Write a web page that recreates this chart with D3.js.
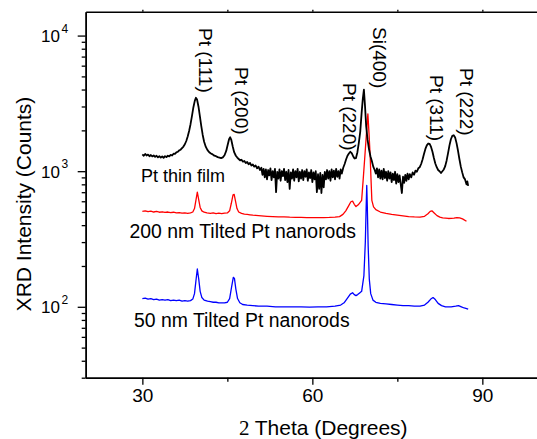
<!DOCTYPE html>
<html><head><meta charset="utf-8">
<script src="https://cdn.jsdelivr.net/npm/d3@7"></script>
<style>body{margin:0;background:#fff}svg{display:block}</style>
</head><body><svg id="c" width="537" height="439"></svg>
<script>
// ---------- data ----------
const thinFilm = [
[30,1330],[30.25,1300],[30.5,1340],[30.75,1305],[31,1325],[31.25,1290],[31.5,1315],[31.75,1285],[32,1305],[32.25,1275],[32.5,1300],[32.75,1265],[33,1290],[33.25,1260],[33.5,1285],[33.75,1255],[34,1290],[34.25,1270],[34.5,1300],[34.75,1285],[35,1320],[35.25,1305],[35.5,1345],[35.75,1340],[36,1375],[36.25,1390],[36.5,1425],[36.75,1440],[37,1480],[37.25,1520],[37.5,1580],[37.75,1670],[38,1800],[38.25,1980],[38.5,2220],[38.75,2550],[39,2950],[39.25,3300],[39.45,3480],[39.65,3380],[39.9,3000],[40.15,2550],[40.4,2150],[40.65,1850],[40.9,1650],[41.2,1510],[41.5,1430],[41.8,1380],[42.1,1350],[42.4,1330],[42.7,1300],[43,1290],[43.3,1270],[43.6,1260],[43.9,1250],[44.2,1265],[44.5,1310],[44.8,1410],[45.05,1560],[45.3,1720],[45.5,1780],[45.7,1700],[45.95,1520],[46.2,1380],[46.5,1300],[46.75,1260],[47,1230],[47.25,1200],[47.5,1215],[47.75,1175],[48,1190],[48.25,1150],[48.5,1170],[48.75,1125],[49,1150],[49.25,1100],[49.5,1120],[49.75,1080],[50,1100],[50.25,1050],[50.5,1080],[50.75,1020],
[51,1060],[51.2,940],[51.4,1040],[51.6,900],[51.8,1030],[52,870],[52.2,1020],[52.4,930],[52.6,1050],[52.8,860],[53,1000],[53.2,900],[53.4,1040],[53.6,700],[53.8,990],[54,880],[54.2,1030],[54.4,850],[54.6,1000],[54.8,920],[55,1040],[55.2,860],[55.4,990],[55.6,830],[55.8,1020],[56,740],[56.2,980],[56.4,880],[56.6,1030],[56.8,850],[57,1000],[57.2,900],[57.4,1040],[57.6,840],[57.8,990],[58,880],[58.2,1020],[58.4,860],[58.6,1000],[58.8,910],[59,1030],[59.2,850],[59.4,980],[59.6,890],[59.8,1020],[60,830],[60.2,980],[60.4,870],[60.6,1000],[60.8,700],[61,950],[61.2,740],[61.4,970],[61.6,690],[61.8,940],[62,760],[62.2,990],[62.4,870],[62.6,1020],[62.8,880],[63,1000],[63.2,850],[63.4,1030],[63.6,900],[63.8,1010],[64,870],[64.2,1040],[64.4,910],[64.6,1000],[64.8,880],[65,1030],
[65.2,960],[65.45,1060],[65.7,1130],[65.95,1220],[66.2,1300],[66.45,1350],[66.7,1390],[66.95,1360],[67.2,1290],[67.45,1240],[67.7,1250],[67.95,1380],[68.2,1620],[68.45,1950],[68.7,2700],[68.9,3400],[69.1,4000],[69.3,3000],[69.5,2150],[69.75,1700],[70,1450],[70.25,1290],[70.5,1190],[70.75,1080],[71,1020],
[71.2,960],[71.4,1050],[71.6,900],[71.8,1030],[72,880],[72.2,1010],[72.4,870],[72.6,1040],[72.8,890],[73,990],[73.2,850],[73.4,1000],[73.6,880],[73.8,980],[74,830],[74.2,960],[74.4,860],[74.6,990],[74.8,810],[75,950],[75.2,830],[75.4,930],[75.6,800],[75.8,690],[76,910],[76.2,820],[76.4,940],[76.6,850],[76.8,960],[77,870],
[77.2,950],[77.45,900],[77.7,980],[77.95,940],[78.2,1010],[78.45,990],[78.7,1050],[78.95,1070],[79.2,1130],[79.45,1220],[79.7,1340],[79.95,1460],[80.2,1550],[80.45,1600],[80.7,1590],[80.95,1510],[81.2,1390],[81.45,1250],[81.7,1140],[81.95,1070],[82.2,1020],[82.45,1000],[82.7,970],[82.95,1000],[83.2,1030],[83.45,1090],[83.7,1200],[83.95,1360],[84.2,1550],[84.45,1720],[84.7,1820],[84.95,1840],[85.2,1770],[85.45,1610],[85.7,1420],[85.95,1230],[86.2,1080],[86.45,980],[86.7,900],[86.95,870],[87.2,800],[87.35,840],[87.5,780]
];
const nanorods200 = [
[30,506],[30.5,510],[31,503],[31.5,508],[32,500],[32.5,505],[33,498],[33.5,502],[34,496],[34.5,500],[35,494],[35.5,498],[36,492],[36.5,495],[37,490],[37.5,493],[38,489],[38.5,492],[38.9,500],[39.2,530],[39.45,610],[39.7,700],[39.95,615],[40.2,540],[40.5,510],[40.9,498],[41.4,492],[42,489],[42.5,492],[43,487],[43.5,490],[44,486],[44.5,490],[45,492],[45.4,510],[45.7,580],[46,670],[46.2,675],[46.45,600],[46.7,530],[47,500],[47.5,488],[48,482],[48.5,480],[49,477],[49.5,474],[50,472],[51,468],[52,465],[53,463],[54,461],[55,460],[56,458],[57,457],[58,456],[59,455],[60,455],[61,454],[62,455],[63,456],[64,458],[64.8,462],[65.4,480],[65.9,510],[66.4,555],[66.8,595],[67.1,602],[67.4,570],[67.7,548],[68.1,565],[68.7,610],[69,900],[69.3,1350],[69.55,1900],[69.8,2650],[70,1900],[70.2,1300],[70.35,880],[70.5,610],[70.8,545],[71.2,520],[72,500],[73,488],[74,480],[75,474],[76,468],[77,463],[78,460],[79,458],[79.8,465],[80.4,485],[80.8,505],[81.1,510],[81.5,492],[82,470],[82.5,458],[83,452],[84,448],[85,450],[85.5,455],[86,452],[86.5,445],[87.2,427]
];
const nanorods50 = [
[30,115],[30.5,116],[31,114],[31.5,115],[32,113],[32.5,114],[33,112],[33.5,113],[34,112],[34.5,113],[35,111],[35.5,112],[36,111],[36.5,112],[37,110],[37.5,111],[38,110],[38.5,111],[38.9,114],[39.2,125],[39.45,155],[39.7,190],[39.95,160],[40.2,130],[40.5,117],[40.9,112],[41.5,110],[42,109],[42.5,108],[43,108],[43.5,107],[44,107],[44.5,107],[45,108],[45.4,115],[45.75,140],[46.05,165],[46.25,162],[46.5,135],[46.8,115],[47.2,107],[47.7,104],[48.5,103],[49.5,102],[50.5,101],[52,101],[53.5,100],[55,100],[56.5,100],[58,100],[59.5,99.5],[61,100],[62.5,100],[64,101],[65,103],[65.6,107],[66.2,116],[66.7,124],[67.1,127],[67.4,123],[67.7,121],[68,123],[68.4,127],[68.7,130],[69.1,170],[69.35,300],[69.5,550],[69.6,785],[69.7,550],[69.85,280],[70.05,160],[70.3,125],[70.7,112],[71.2,108],[72,106],[73,105],[74,104],[75,103],[76,102],[77,102],[78,101],[79,101],[79.8,103],[80.4,108],[80.9,114],[81.3,117],[81.7,113],[82.2,106],[82.8,102],[83.5,100],[84.5,100],[85.3,101],[85.8,102],[86.3,100],[86.8,98],[87.5,96]
];
const seriesLabels = ["Pt thin film", "200 nm Tilted Pt nanorods", "50 nm Tilted Pt nanorods"];
const peakLabels = ["Pt (111)", "Pt (200)", "Pt (220)", "Si(400)", "Pt (311)", "Pt (222)"];
const xTicks = [30, 60, 90];
const xMinorTicks = [45, 75];
const yTicks = [100, 1000, 10000];
const yExponents = ["2", "3", "4"];
const xDomain = [20, 100];
const yDomain = [30, 15000];

// ---------- drawing ----------
const svg = d3.select("#c");
const L = 85.7, R = 539, T = 11.7, B = 377.7;
const x = d3.scaleLinear().domain(xDomain).range([L, R]);
const y = d3.scaleLog().domain(yDomain).range([B, T]);
const FONT = "'Liberation Sans', Arial, Helvetica, sans-serif";

svg.append("defs").append("clipPath").attr("id","clip")
  .append("rect").attr("x",L).attr("y",T).attr("width",R-L).attr("height",B-T);

const line = d3.line().x(d => x(d[0])).y(d => y(d[1]));
const g = svg.append("g").attr("clip-path","url(#clip)");
g.append("path").datum(nanorods50).attr("d",line).attr("fill","none").attr("stroke","#0000ff").attr("stroke-width",1.3).attr("stroke-linejoin","round");
g.append("path").datum(nanorods200).attr("d",line).attr("fill","none").attr("stroke","#ff0000").attr("stroke-width",1.3).attr("stroke-linejoin","round");
g.append("path").datum(thinFilm).attr("d",line).attr("fill","none").attr("stroke","#000").attr("stroke-width",1.8).attr("stroke-linejoin","round");

// axes
const xAxis = svg.append("g").attr("transform",`translate(0,${B})`)
  .call(d3.axisBottom(x).tickValues(xTicks).tickSize(7).tickSizeOuter(0).tickFormat(d3.format("d")));
const xMinor = svg.append("g").attr("transform",`translate(0,${B})`)
  .call(d3.axisBottom(x).tickValues(xMinorTicks).tickSize(4).tickSizeOuter(0).tickFormat(""));
const yAxis = svg.append("g").attr("transform",`translate(${L},0)`)
  .call(d3.axisLeft(y).tickValues(yTicks).tickSize(8).tickSizeOuter(0).tickFormat(""));
const minorVals = y.ticks().filter(v => !yTicks.includes(v) && v >= yDomain[0] && v <= yDomain[1]);
const yMinor = svg.append("g").attr("transform",`translate(${L},0)`)
  .call(d3.axisLeft(y).tickValues(minorVals).tickSize(4).tickSizeOuter(0).tickFormat(""));
const xTop = svg.append("g").attr("transform",`translate(0,${T})`)
  .call(d3.axisTop(x).tickValues(xTicks.concat(xMinorTicks)).tickSize(2).tickSizeOuter(0).tickFormat(""));

[xAxis,xMinor,yAxis,yMinor,xTop].forEach(a => {
  a.selectAll("path.domain").attr("stroke","#000").attr("stroke-width",1.5);
  a.selectAll(".tick line").attr("stroke","#000").attr("stroke-width",1.3);
});
xAxis.selectAll(".tick text").attr("font-family",FONT).attr("font-size",19).attr("fill","#000").attr("y",11).attr("dy","0.71em");

// y tick labels with superscripts
yTicks.forEach((v,i) => {
  svg.append("text").attr("font-family",FONT).attr("fill","#000")
    .attr("x",60).attr("y",y(v)+6.5).attr("text-anchor","end").attr("font-size",17).text("10");
  svg.append("text").attr("font-family",FONT).attr("fill","#000").attr("font-size",12)
    .attr("x",61.5).attr("y",y(v)-3).text(yExponents[i]);
});

// axis titles
const xt = svg.append("text").attr("x",323.3).attr("y",435).attr("text-anchor","middle").attr("font-size",21).attr("font-family",FONT).attr("fill","#000");
xt.append("tspan").attr("font-family","'Liberation Serif', 'Times New Roman', serif").text("2 ");
xt.append("tspan").text("Theta (Degrees)");
svg.append("text").attr("transform","translate(31,204) rotate(-90)").attr("text-anchor","middle")
  .attr("font-size",21).attr("font-family",FONT).attr("fill","#000").text("XRD Intensity (Counts)");

// series labels
const seriesLabelPos = [[141,181.7,18],[129.5,238.3,19.4],[134,326.7,19.4]];
seriesLabels.forEach((s,i) => {
  const p = seriesLabelPos[i];
  svg.append("text").attr("x",p[0]).attr("y",p[1]).attr("font-size",p[2]).attr("font-family",FONT).attr("fill","#000").text(s);
});

// peak labels (rotated)
const peakLabelPos = [[199,28],[235,67],[343,83],[372.5,27],[430,75],[460,68]];
peakLabels.forEach((s,i) => {
  const p = peakLabelPos[i];
  svg.append("text").attr("transform",`translate(${p[0]},${p[1]}) rotate(90)`)
    .attr("font-size",19).attr("font-family",FONT).attr("fill","#000").text(s);
});
</script></body></html>
